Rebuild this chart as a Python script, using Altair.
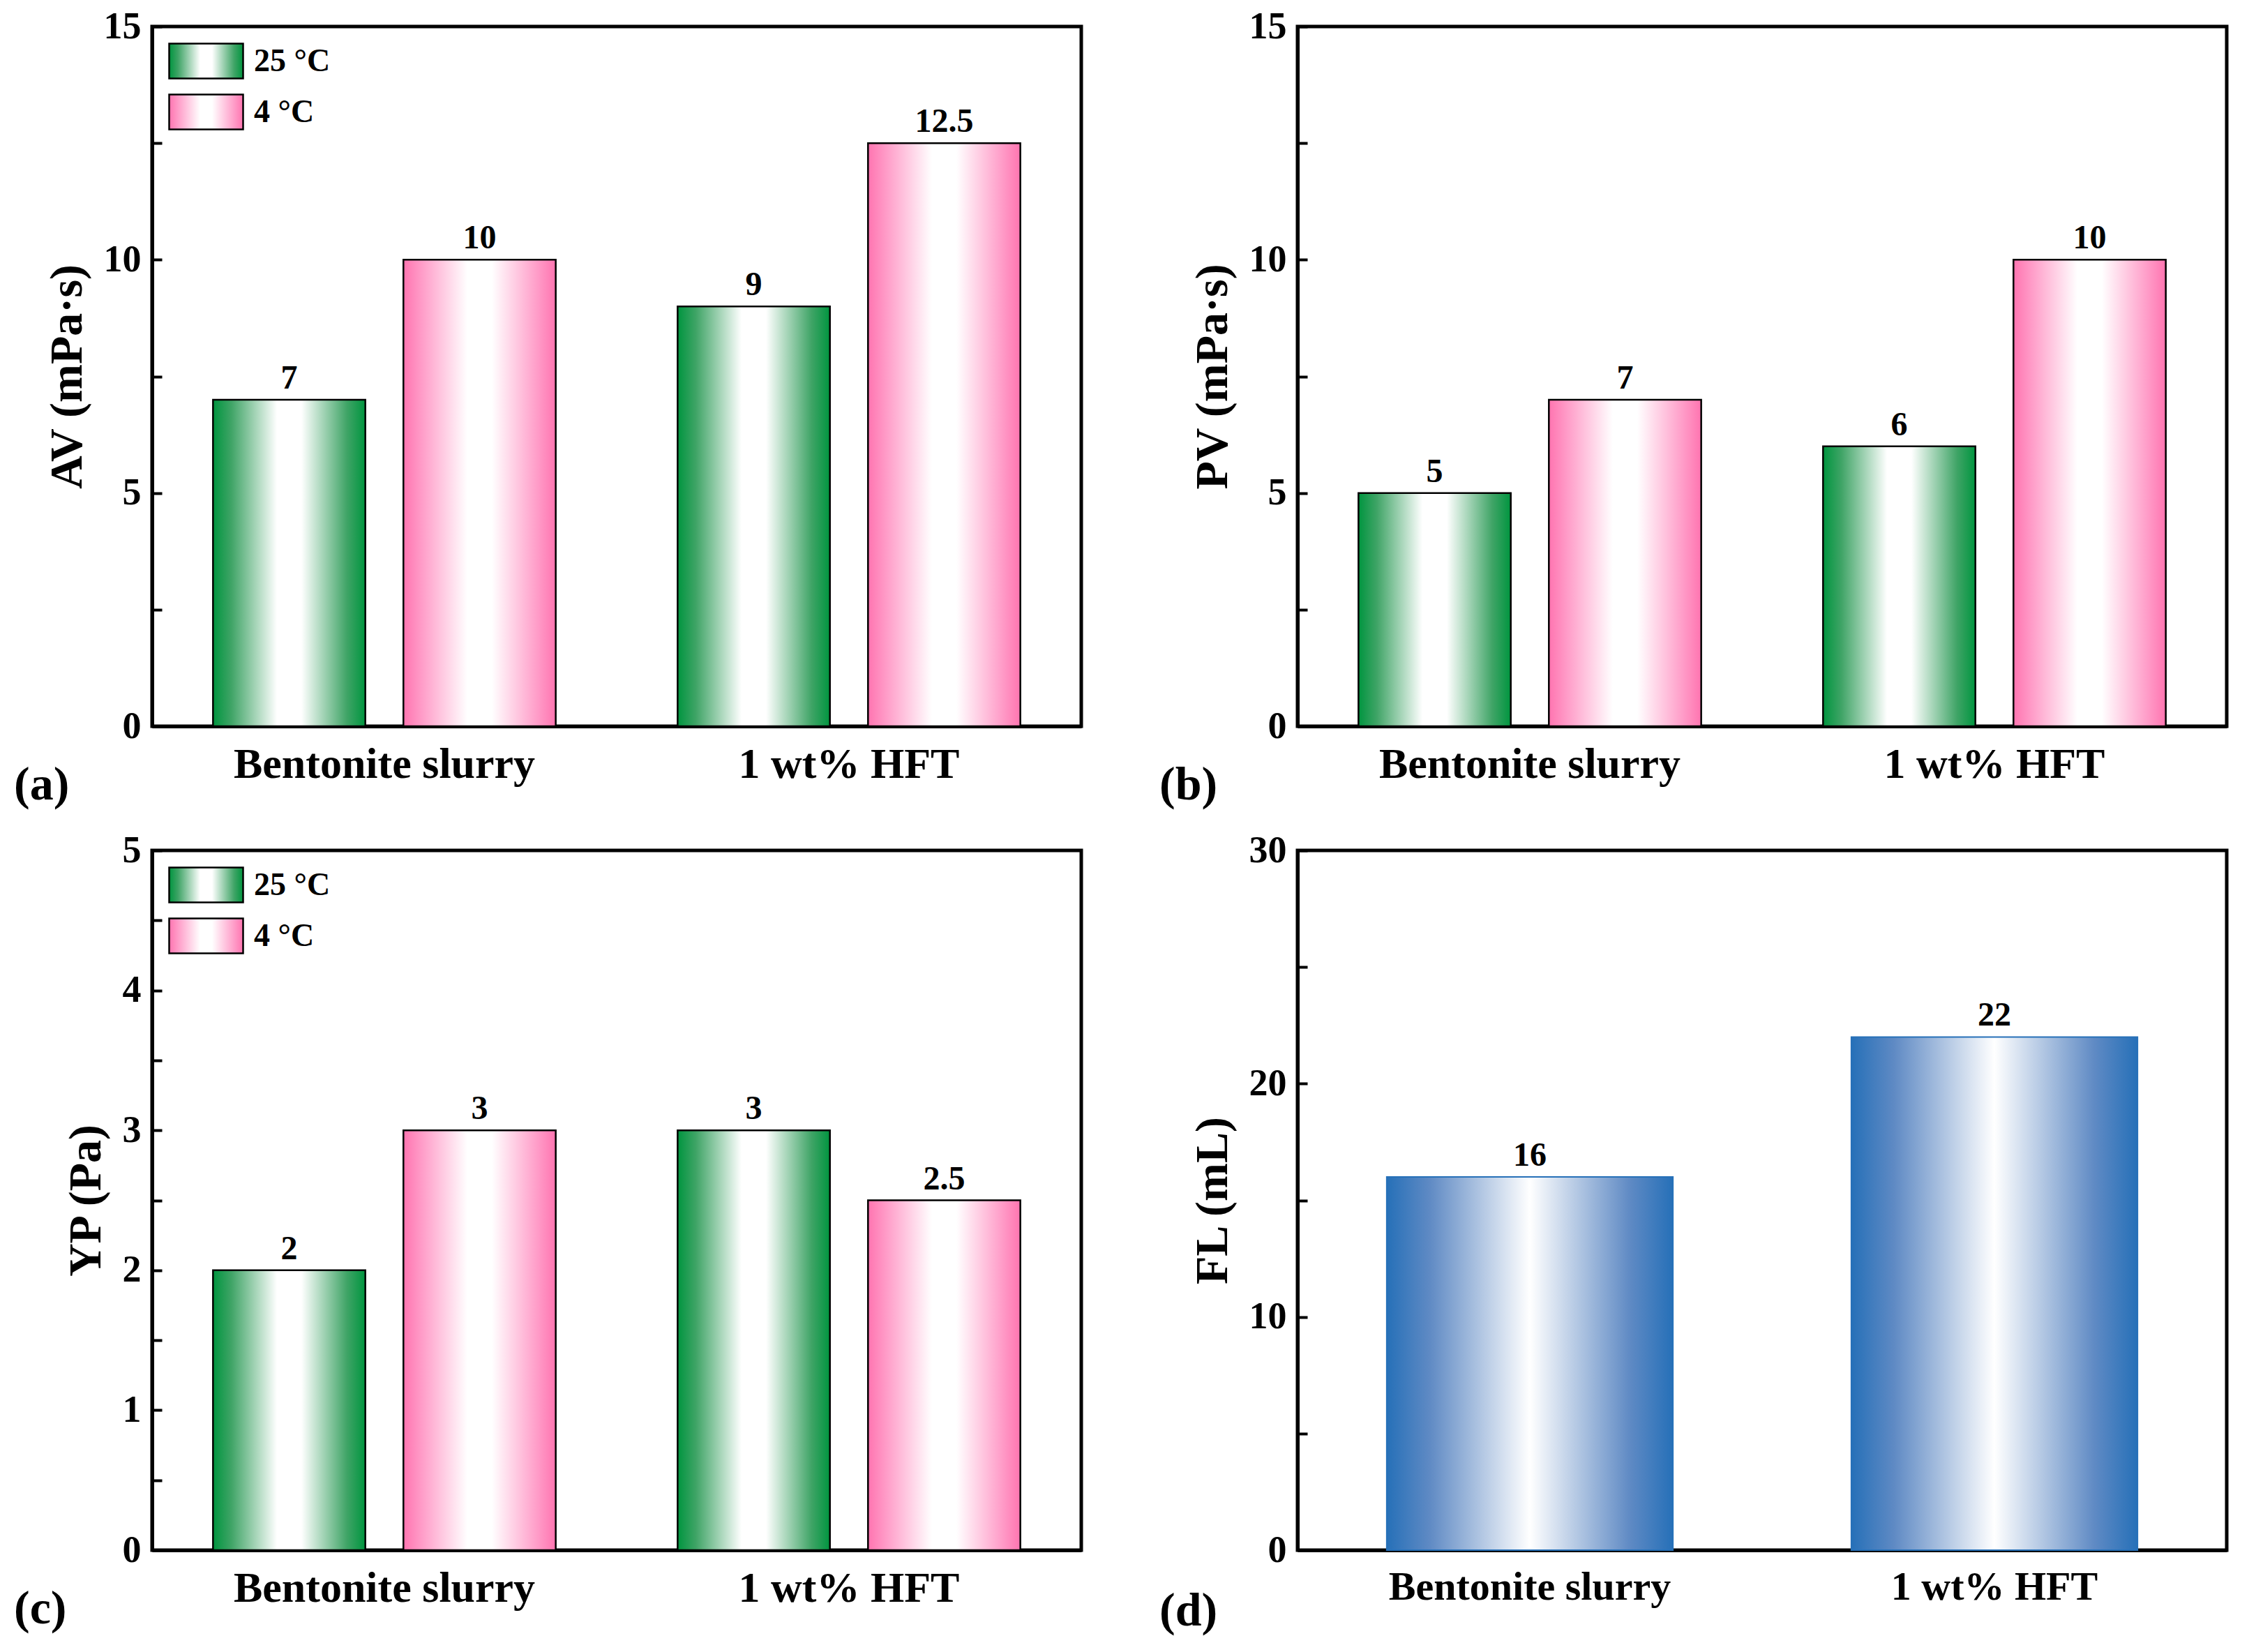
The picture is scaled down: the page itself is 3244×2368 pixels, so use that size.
import altair as alt
import pandas as pd

samples = ["Bentonite slurry", "1 wt% HFT"]
temps = ["25 °C", "4 °C"]

av_25 = [7, 9]
av_4 = [10, 12.5]
pv_25 = [5, 6]
pv_4 = [7, 10]
yp_25 = [2, 3]
yp_4 = [3, 2.5]
fl = [16, 22]

FONT = "Liberation Serif"
W, H = 1332, 1003


def grad_expr(edge, mid_edge):
    # vega expression that returns a linear (left-right) gradient object
    return (
        "{gradient: 'linear', x1: 0, y1: 0, x2: 1, y2: 0, stops: ["
        f"{{offset: 0, color: '{edge}'}},"
        f"{{offset: 0.12, color: '{mid_edge}'}},"
        "{offset: 0.42, color: '#ffffff'},"
        "{offset: 0.58, color: '#ffffff'},"
        f"{{offset: 0.88, color: '{mid_edge}'}},"
        f"{{offset: 1, color: '{edge}'}}]}}"
    )


green = grad_expr("#00953f", "#3fa466")
pink = grad_expr("#ff74b0", "#ff9cc8")

blue_grad = alt.LinearGradient(
    gradient="linear",
    x1=0, y1=0, x2=1, y2=0,
    stops=[
        alt.GradientStop(offset=0, color="#2670b8"),
        alt.GradientStop(offset=0.15, color="#5f8ac4"),
        alt.GradientStop(offset=0.5, color="#ffffff"),
        alt.GradientStop(offset=0.85, color="#5f8ac4"),
        alt.GradientStop(offset=1, color="#2670b8"),
    ],
)


def y_axis(title, values, major):
    return alt.Axis(
        title=title,
        values=values,
        labelExpr=f"datum.value % {major} === 0 ? '' + datum.value : ''",
        grid=False,
        domainColor="black",
        domainWidth=5,
        tickColor="black",
        tickWidth=4,
        tickSize={"expr": "-14"},
        labelPadding=30,
        labelFont=FONT,
        labelFontWeight="bold",
        labelFontSize=54,
        labelColor="black",
        titleFont=FONT,
        titleFontWeight="bold",
        titleFontSize=66,
        titleColor="black",
        titlePadding=18,
    )


def x_axis(size, pad):
    return alt.Axis(
        title=None,
        labelAngle=0,
        labelLimit=0,
        ticks=False,
        domainColor="black",
        domainWidth=5,
        labelPadding=pad,
        labelFont=FONT,
        labelFontWeight="bold",
        labelFontSize=size,
        labelColor="black",
    )


def letter(txt, offset):
    return alt.TitleParams(
        txt,
        orient="bottom",
        anchor="start",
        frame="group",
        dx=-198,
        offset=offset,
        font=FONT,
        fontWeight="bold",
        fontSize=68,
        color="black",
    )


def grouped_panel(v25, v4, ytitle, ymax, step, major, tag):
    data = pd.DataFrame({
        "sample": samples * 2,
        "temp": [temps[0]] * 2 + [temps[1]] * 2,
        "value": v25 + v4,
    })
    ticks = [i * step for i in range(int(round(ymax / step)) + 1)]

    x = alt.X("sample:N", sort=samples, axis=x_axis(62, 24),
              scale=alt.Scale(paddingInner=0, paddingOuter=0))
    xo = alt.XOffset("temp:N", sort=temps,
                     scale=alt.Scale(domain=temps, paddingInner=0.2, paddingOuter=0.32))
    y = alt.Y("value:Q", axis=y_axis(ytitle, ticks, major),
              scale=alt.Scale(domain=[0, ymax], nice=False))

    bars = alt.Chart(data).mark_bar(stroke="black", strokeWidth=2.5).encode(
        x=x, xOffset=xo, y=y,
        color=alt.Color(
            "temp:N",
            scale=alt.Scale(domain=temps, range=[{"expr": green}, {"expr": pink}]),
            legend=alt.Legend(
                title=None,
                orient="top-left",
                offset=23,
                # wide swatch: layout sees a 50px square, drawn 106px wide
                symbolType="M-1,-1H3.24V1H-1Z",
                symbolSize=2500,
                symbolStrokeColor="black",
                symbolStrokeWidth=2.5,
                labelFont=FONT,
                labelFontWeight="bold",
                labelFontSize=46,
                labelColor="black",
                labelOffset=70,
                rowPadding=12,
            ),
        ),
    )
    labels = alt.Chart(data).mark_text(
        baseline="bottom", dy=-6, font=FONT, fontWeight="bold", fontSize=48, color="black"
    ).encode(x=x, xOffset=xo, y=y, text=alt.Text("value:Q"))

    return (bars + labels).properties(width=W, height=H, title=letter(tag, -34))


def fl_panel():
    data = pd.DataFrame({"sample": samples, "value": fl})
    ticks = [i * 5 for i in range(7)]
    x = alt.X("sample:N", sort=samples, axis=x_axis(58, 24),
              scale=alt.Scale(paddingInner=0.384, paddingOuter=0.192))
    y = alt.Y("value:Q", axis=y_axis("FL (mL)", ticks, 10),
              scale=alt.Scale(domain=[0, 30], nice=False))
    bars = alt.Chart(data).mark_bar(
        color=blue_grad, stroke="#2670b8", strokeWidth=2
    ).encode(x=x, y=y)
    labels = alt.Chart(data).mark_text(
        baseline="bottom", dy=-6, font=FONT, fontWeight="bold", fontSize=48, color="black"
    ).encode(x=x, y=y, text=alt.Text("value:Q"))
    return (bars + labels).properties(width=W, height=H, title=letter("(d)", -28))


pa = grouped_panel(av_25, av_4, "AV (mPa·s)", 15, 2.5, 5, "(a)")
pb = grouped_panel(pv_25, pv_4, "PV (mPa·s)", 15, 2.5, 5, "(b)")
pc = grouped_panel(yp_25, yp_4, "YP (Pa)", 5, 0.5, 1, "(c)")
pd_ = fl_panel()

chart = (
    alt.vconcat(
        alt.hconcat(pa, pb, spacing=106),
        alt.hconcat(pc, pd_, spacing=106),
        spacing=26,
    )
    .properties(padding={"left": 9, "top": 0, "right": 10, "bottom": 10})
    .configure_view(stroke="black", strokeWidth=5)
    .resolve_scale(color="independent")
)

chart.save("out.html", embed_options={"renderer": "svg", "actions": False})
